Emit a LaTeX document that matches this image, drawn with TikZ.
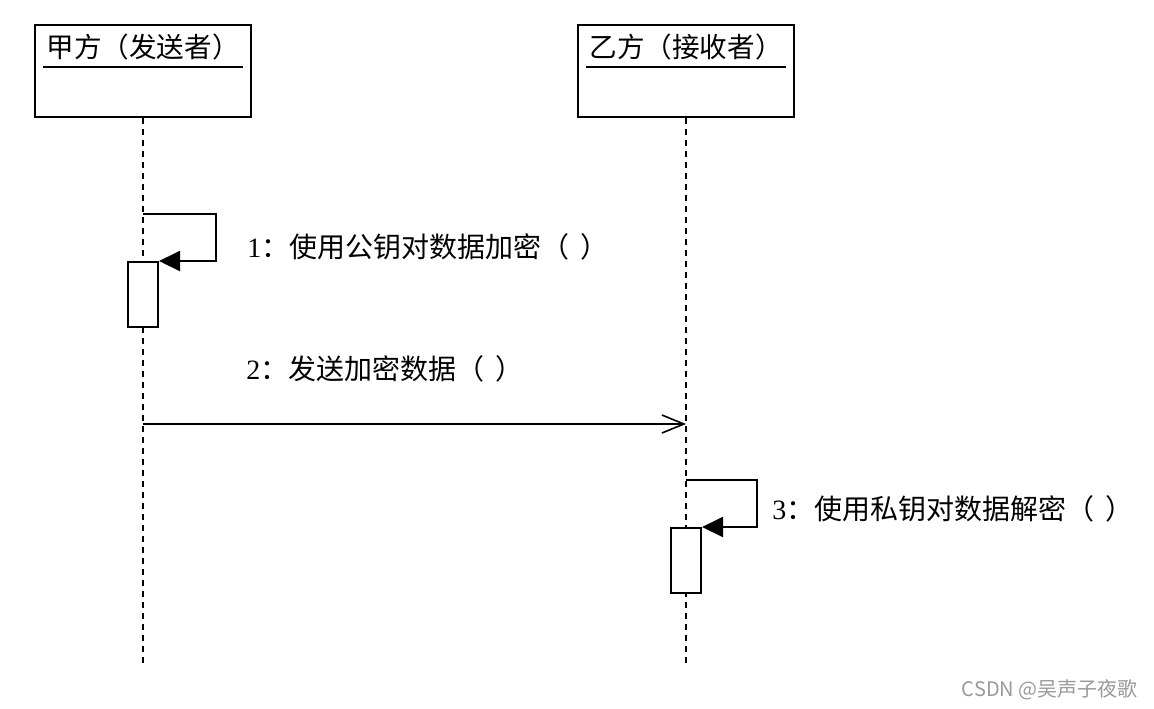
\documentclass[tikz,border=0pt]{standalone}
\usepackage{fontspec}
\setmainfont{Liberation Serif}
\newfontfamily\cjk{Noto Sans CJK SC}
\usetikzlibrary{arrows.meta,positioning,calc}
\newcommand{\emptyargs}{（\hspace{0.4em}）}
\tikzset{
  obj/.style={draw, line width=1pt, minimum width=108pt, minimum height=46pt, inner sep=0pt},
  objname/.style={font=\cjk\fontsize{13.8}{17}\selectfont, inner sep=1.5pt},
  act/.style={draw, line width=1pt, fill=white, minimum width=15pt, minimum height=32.5pt, inner sep=0pt},
  life/.style={line width=0.8pt, dash pattern=on 3pt off 2.5pt},
  msg/.style={font=\fontsize{14}{17}\selectfont, anchor=west, inner sep=0pt},
  self/.style={line width=1pt, -{Triangle[length=10.5pt,width=10pt]}},
  call/.style={line width=0.8pt, -{Straight Barb[length=11pt,width=9pt]}}
}
\begin{document}
\begin{tikzpicture}[x=0.5pt, y=-0.5pt]
  \useasboundingbox (0,0) rectangle (1154,708);
  % Objects
  \node[obj] (A) at (143,71) {};
  \node[obj] (B) at (686,71) {};
  \node[objname, below=3pt of A.north] (An) {甲方（发送者）};
  \node[objname, below=3pt of B.north] (Bn) {乙方（接收者）};
  \draw[line width=1pt] ([yshift=-2pt]An.south west) -- ([yshift=-2pt]An.south east);
  \draw[line width=1pt] ([yshift=-2pt]Bn.south west) -- ([yshift=-2pt]Bn.south east);
  % Lifelines
  \coordinate (Aend) at (143,665);
  \coordinate (Bend) at (686,665);
  \draw[life] (A.south) -- (Aend);
  \draw[life] (B.south) -- (Bend);
  % Activations
  \node[act] (actA) at (143,294.5) {};
  \node[act] (actB) at (686,560.5) {};
  % Messages
  \coordinate (s1) at (143,214);
  \draw[self] (s1) -- ++(73,0) |- (actA.north east);
  \node[msg] (m1) at (247,247) {1{\cjk ：使用公钥对数据加密\emptyargs}};
  \coordinate (m2a) at (143,424);
  \coordinate (m2b) at (686,424);
  \draw[call] (m2a) -- (m2b);
  \node[msg] (m2) at (246,369) {2{\cjk ：发送加密数据\emptyargs}};
  \coordinate (s3) at (686,480);
  \draw[self] (s3) -- ++(71,0) |- (actB.north east);
  \node[msg] (m3) at (772,509) {3{\cjk ：使用私钥对数据解密\emptyargs}};
  % Watermark
  \node[font=\cjk\fontsize{10}{12}\selectfont, text=gray!80, anchor=east, inner sep=0pt] (wm) at (1138,690) {CSDN @吴声子夜歌};
\end{tikzpicture}
\end{document}
